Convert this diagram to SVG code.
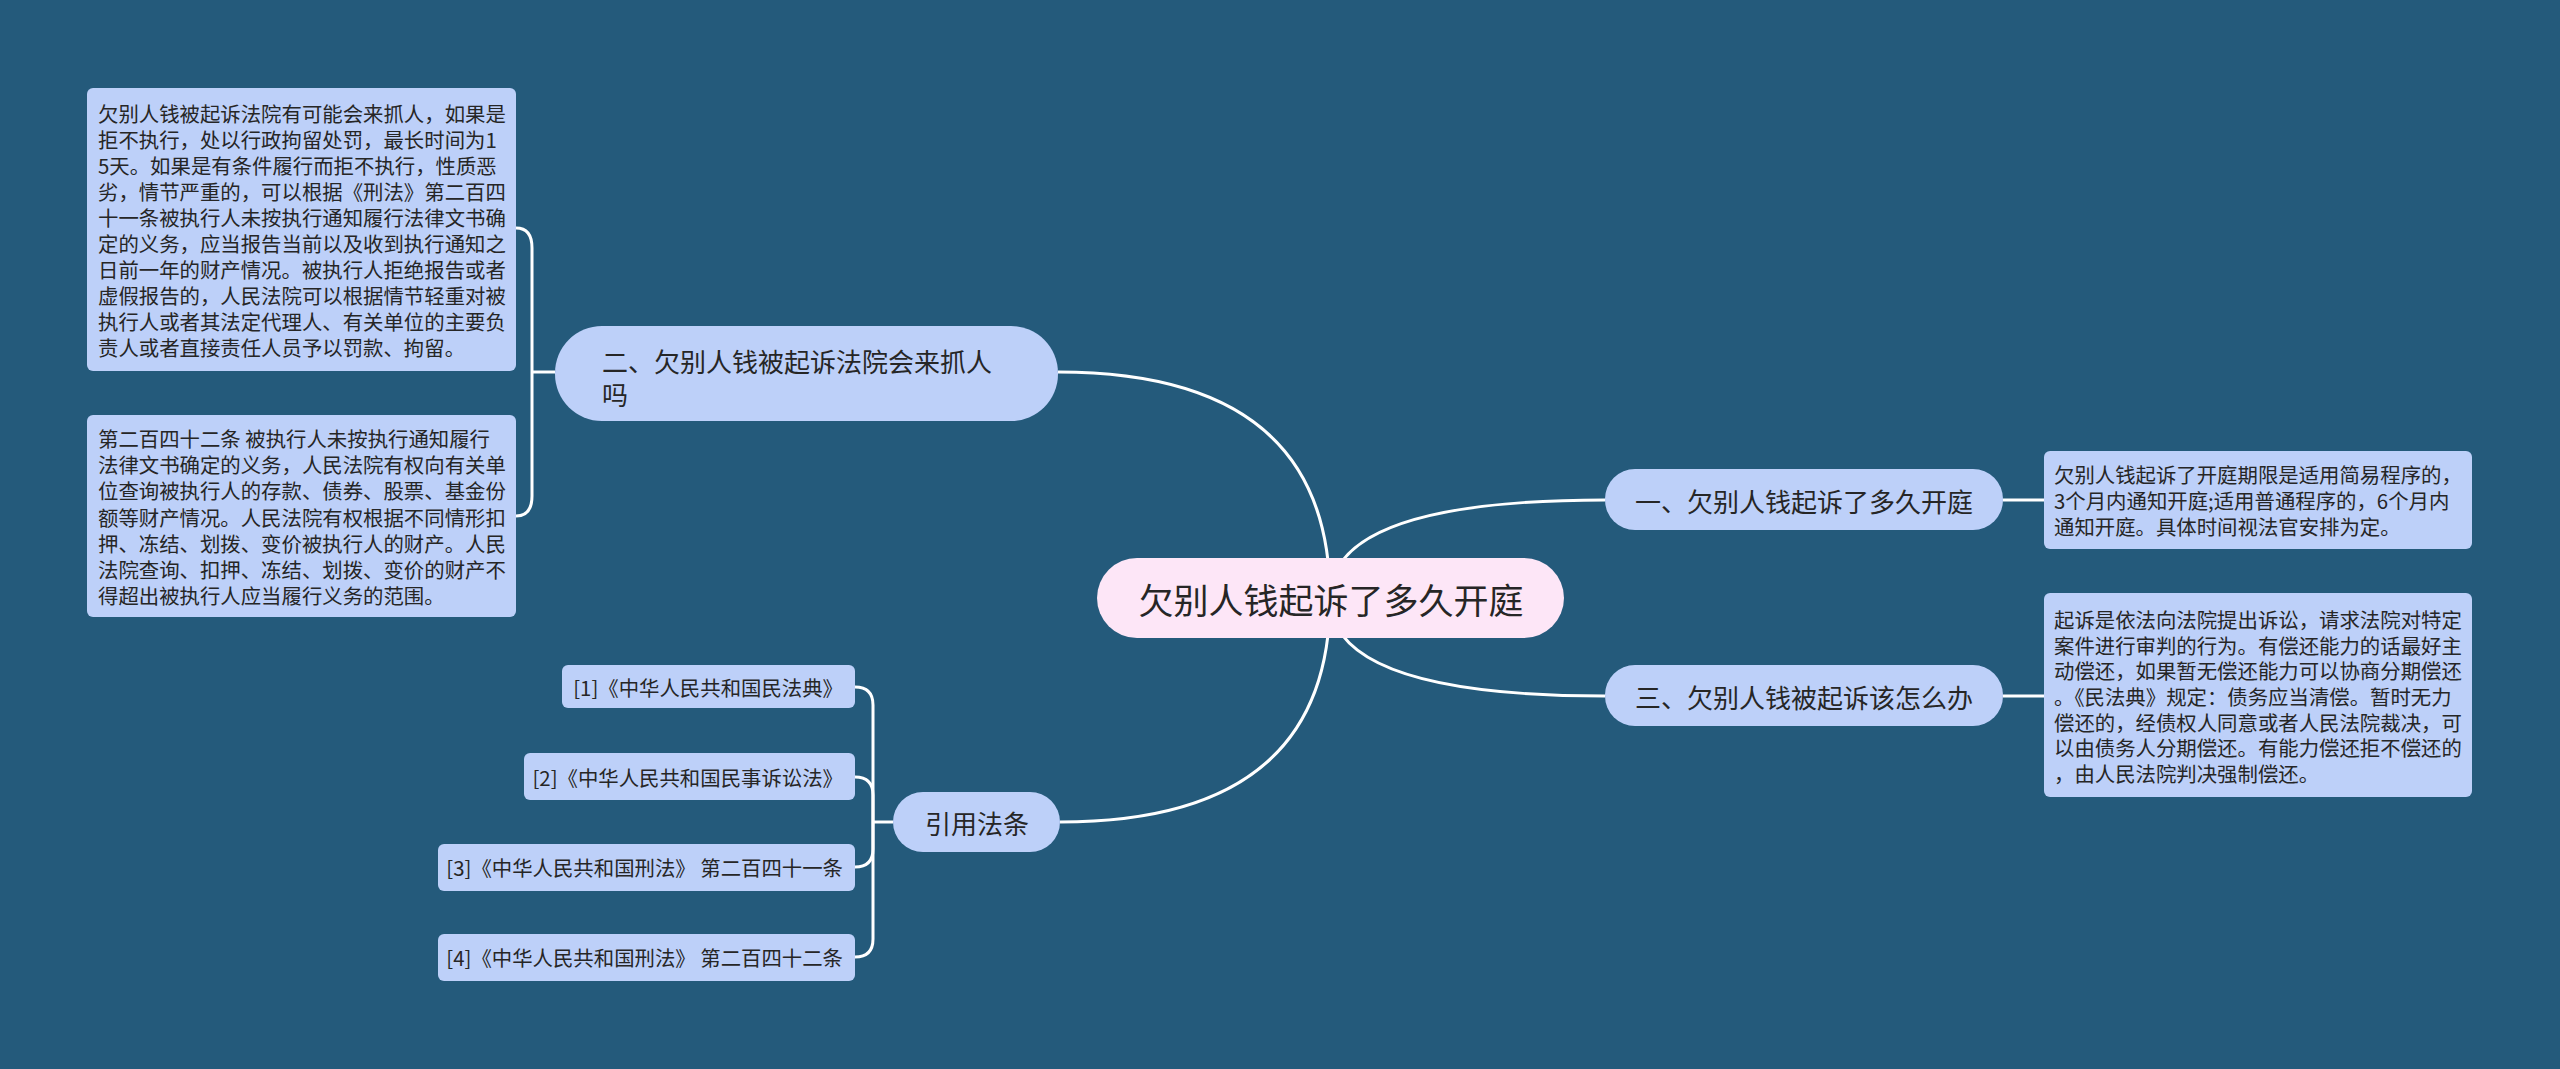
<svg xmlns="http://www.w3.org/2000/svg" width="2560" height="1069" viewBox="0 0 2560 1069">
<style>
text{font-family:"Noto Sans CJK SC","Noto Sans",sans-serif;fill:#262626;dominant-baseline:central}
.bg{fill:#245a7b}
.n{fill:#bdd0f9}
.c{fill:#fde6f7}
.s{font-size:20.4px}
.m{font-size:26px}
.big{font-size:35px}
.lk{fill:none;stroke:#ffffff;stroke-width:3}
</style>
<rect class="bg" x="0" y="0" width="2560" height="1069"/>
<g id="connectors">
<path class="lk" d="M1058 372 Q1330 372 1330 598"/>
<path class="lk" d="M1060 822 Q1330 822 1330 598"/>
<path class="lk" d="M1330 598 Q1330 500 1605 500"/>
<path class="lk" d="M1330 598 Q1330 696 1605 696"/>
<path class="lk" d="M555 372 L532 372"/>
<path class="lk" d="M516 228 Q532 228 532 248 L532 372"/>
<path class="lk" d="M516 516 Q532 516 532 496 L532 372"/>
<path class="lk" d="M893 822 L873 822"/>
<path class="lk" d="M855 687 Q873 687 873 705 L873 822"/>
<path class="lk" d="M855 777 Q873 777 873 795 L873 822"/>
<path class="lk" d="M855 867 Q873 867 873 849 L873 822"/>
<path class="lk" d="M855 957 Q873 957 873 939 L873 822"/>
<path class="lk" d="M2003 500 L2044 500"/>
<path class="lk" d="M2003 696 L2044 696"/>
</g>
<g id="center">
<rect class="c" x="1097" y="558" width="467" height="80" rx="40"/>
<text class="big" x="1331" y="598" text-anchor="middle">欠别人钱起诉了多久开庭</text>
</g>
<g id="node-2">
<rect class="n" x="555" y="326" width="503" height="95" rx="47"/>
<text class="m" x="602" y="360">二、欠别人钱被起诉法院会来抓人</text>
<text class="m" x="602" y="393">吗</text>
</g>
<g id="node-2-detail-1">
<rect class="n" x="87" y="88" width="429" height="283" rx="6"/>
<text class="s" x="98" y="113">欠别人钱被起诉法院有可能会来抓人，如果是</text>
<text class="s" x="98" y="139">拒不执行，处以行政拘留处罚，最长时间为1</text>
<text class="s" x="98" y="165">5天。如果是有条件履行而拒不执行，性质恶</text>
<text class="s" x="98" y="191">劣，情节严重的，可以根据《刑法》第二百四</text>
<text class="s" x="98" y="217">十一条被执行人未按执行通知履行法律文书确</text>
<text class="s" x="98" y="243">定的义务，应当报告当前以及收到执行通知之</text>
<text class="s" x="98" y="269">日前一年的财产情况。被执行人拒绝报告或者</text>
<text class="s" x="98" y="295">虚假报告的，人民法院可以根据情节轻重对被</text>
<text class="s" x="98" y="321">执行人或者其法定代理人、有关单位的主要负</text>
<text class="s" x="98" y="347">责人或者直接责任人员予以罚款、拘留。</text>
</g>
<g id="node-2-detail-2">
<rect class="n" x="87" y="415" width="429" height="202" rx="6"/>
<text class="s" x="98" y="438">第二百四十二条 被执行人未按执行通知履行</text>
<text class="s" x="98" y="464">法律文书确定的义务，人民法院有权向有关单</text>
<text class="s" x="98" y="490">位查询被执行人的存款、债券、股票、基金份</text>
<text class="s" x="98" y="517">额等财产情况。人民法院有权根据不同情形扣</text>
<text class="s" x="98" y="543">押、冻结、划拨、变价被执行人的财产。人民</text>
<text class="s" x="98" y="569">法院查询、扣押、冻结、划拨、变价的财产不</text>
<text class="s" x="98" y="595">得超出被执行人应当履行义务的范围。</text>
</g>
<g id="node-1">
<rect class="n" x="1605" y="469" width="398" height="61" rx="30"/>
<text class="m" x="1804" y="500" text-anchor="middle">一、欠别人钱起诉了多久开庭</text>
</g>
<g id="node-1-detail">
<rect class="n" x="2044" y="451" width="428" height="98" rx="6"/>
<text class="s" x="2054" y="474">欠别人钱起诉了开庭期限是适用简易程序的，</text>
<text class="s" x="2054" y="500">3个月内通知开庭;适用普通程序的，6个月内</text>
<text class="s" x="2054" y="526">通知开庭。具体时间视法官安排为定。</text>
</g>
<g id="node-3">
<rect class="n" x="1605" y="665" width="398" height="61" rx="30"/>
<text class="m" x="1804" y="696" text-anchor="middle">三、欠别人钱被起诉该怎么办</text>
</g>
<g id="node-3-detail">
<rect class="n" x="2044" y="593" width="428" height="204" rx="6"/>
<text class="s" x="2054" y="619">起诉是依法向法院提出诉讼，请求法院对特定</text>
<text class="s" x="2054" y="645">案件进行审判的行为。有偿还能力的话最好主</text>
<text class="s" x="2054" y="670">动偿还，如果暂无偿还能力可以协商分期偿还</text>
<text class="s" x="2054" y="696">。《民法典》规定：债务应当清偿。暂时无力</text>
<text class="s" x="2054" y="722">偿还的，经债权人同意或者人民法院裁决，可</text>
<text class="s" x="2054" y="747">以由债务人分期偿还。有能力偿还拒不偿还的</text>
<text class="s" x="2054" y="773">，由人民法院判决强制偿还。</text>
</g>
<g id="node-refs">
<rect class="n" x="893" y="792" width="167" height="60" rx="30"/>
<text class="m" x="977" y="822" text-anchor="middle">引用法条</text>
</g>
<g id="ref-1">
<rect class="n" x="562" y="665" width="293" height="43" rx="6"/>
<text class="s" x="843" y="687" text-anchor="end">[1]《中华人民共和国民法典》</text>
</g>
<g id="ref-2">
<rect class="n" x="524" y="753" width="331" height="47" rx="6"/>
<text class="s" x="843" y="777" text-anchor="end">[2]《中华人民共和国民事诉讼法》</text>
</g>
<g id="ref-3">
<rect class="n" x="438" y="844" width="417" height="47" rx="6"/>
<text class="s" x="843" y="867" text-anchor="end">[3]《中华人民共和国刑法》 第二百四十一条</text>
</g>
<g id="ref-4">
<rect class="n" x="438" y="934" width="417" height="47" rx="6"/>
<text class="s" x="843" y="957" text-anchor="end">[4]《中华人民共和国刑法》 第二百四十二条</text>
</g>
</svg>
